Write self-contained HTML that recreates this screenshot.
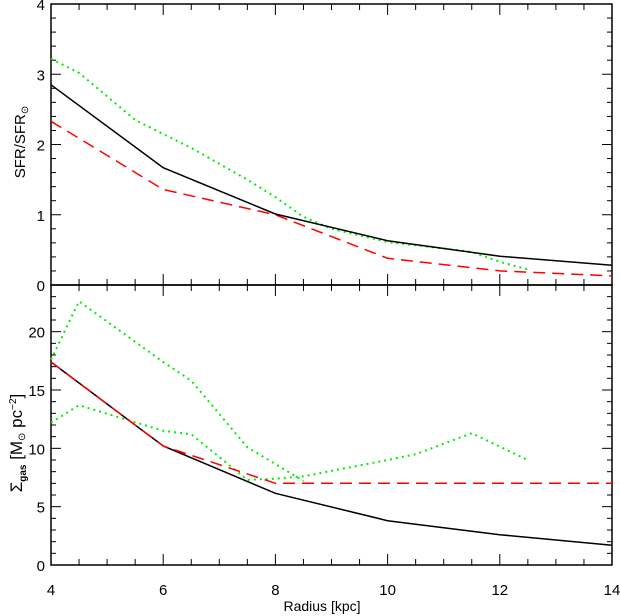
<!DOCTYPE html>
<html><head><meta charset="utf-8"><style>
html,body{margin:0;padding:0;background:#fff;}
svg{display:block;font-family:"Liberation Sans",sans-serif;}
</style></head><body>
<svg id="chart" width="620" height="616" viewBox="0 0 620 616" xmlns="http://www.w3.org/2000/svg"></svg>
<script>
const radiusTicks = [4, 6, 8, 10, 12, 14];
const sfrTicks = [0, 1, 2, 3, 4];
const gasTicks = [0, 5, 10, 15, 20];
const sfrBlackR = [4, 6, 8, 10, 12, 14];
const sfrBlackV = [2.85, 1.67, 1.01, 0.63, 0.41, 0.28];
const sfrRedR = [4, 6, 8, 10, 12, 14];
const sfrRedV = [2.33, 1.36, 1.0, 0.38, 0.2, 0.13];
const sfrGreenR = [4, 4.5, 5.5, 6, 6.5, 7.5, 8, 8.5, 9, 10, 11, 11.5, 12, 12.5];
const sfrGreenV = [3.22, 3.02, 2.35, 2.15, 1.95, 1.5, 1.25, 0.97, 0.8, 0.61, 0.52, 0.47, 0.33, 0.22];
const gasBlackR = [4, 6, 8, 10, 12, 14];
const gasBlackV = [17.4, 10.2, 6.15, 3.8, 2.6, 1.7];
const gasRedR = [4, 6, 8, 10, 12, 14];
const gasRedV = [17.4, 10.2, 7.0, 7.0, 7.0, 7.0];
const gasGreenUpR = [4, 4.5, 6, 6.5, 7.5, 8.5];
const gasGreenUpV = [17.6, 22.6, 17.4, 15.8, 10.1, 7.2];
const gasGreenLoR = [4, 4.5, 6, 6.5, 7.5, 8, 8.5, 10, 10.5, 11.5, 12.5];
const gasGreenLoV = [12.2, 13.7, 11.5, 11.2, 7.3, 7.4, 7.6, 9.0, 9.5, 11.3, 9.0];

const svg = document.getElementById('chart');
const NS = 'http://www.w3.org/2000/svg';
const X0 = 51, X1 = 612;
const xs = r => X0 + (r - 4) / 10 * (X1 - X0);
const yTop = v => 285 - v / 4 * 281;
const yBot = v => 565 - v / 24 * 280;
function el(tag, attrs, parent) {
  const e = document.createElementNS(NS, tag);
  for (const k in attrs) e.setAttribute(k, attrs[k]);
  (parent || svg).appendChild(e);
  return e;
}
function panel(name, top, bottom, ymax, minorStep, majorStep, ys) {
  const g = el('g', {});
  
  
  el('rect', {x: X0, y: top, width: X1 - X0, height: bottom - top, fill: 'none', stroke: '#000', 'stroke-width': 1.5}, g);
  for (let r = 4; r <= 14.001; r += 0.5) {
    const major = Math.abs(r % 2) < 0.01;
    const L = major ? 11 : 6;
    el('line', {x1: xs(r), x2: xs(r), y1: bottom, y2: bottom - L, stroke: '#000'}, g);
    el('line', {x1: xs(r), x2: xs(r), y1: top, y2: top + L, stroke: '#000'}, g);
  }
  for (let v = 0; v <= ymax + 1e-6; v += minorStep) {
    const major = Math.abs(v / majorStep - Math.round(v / majorStep)) < 1e-6;
    const L = major ? 10 : 5;
    el('line', {x1: X0, x2: X0 + L, y1: ys(v), y2: ys(v), stroke: '#000'}, g);
    el('line', {x1: X1, x2: X1 - L, y1: ys(v), y2: ys(v), stroke: '#000'}, g);
  }
  return g;
}
function series(name, R, V, ys, color, dash, w) {
  const p = R.map((r, i) => xs(r).toFixed(1) + ',' + ys(V[i]).toFixed(1)).join(' ');
  const e = el('polyline', {points: p, fill: 'none', stroke: color, 'stroke-width': w || 1.5});
  if (dash) e.setAttribute('stroke-dasharray', dash);
  
  
}
panel('sfr-panel', 4, 285, 4, 0.2, 1, yTop);
panel('gas-panel', 285, 565, 24, 1, 5, yBot);

series('sfr-green-line', sfrGreenR, sfrGreenV, yTop, '#00ee00', '2,4', 2);
series('sfr-red-line', sfrRedR, sfrRedV, yTop, '#ff0000', '12,7');
series('sfr-black-line', sfrBlackR, sfrBlackV, yTop, '#000');
series('gas-green-upper-line', gasGreenUpR, gasGreenUpV, yBot, '#00ee00', '2,4', 2);
series('gas-green-lower-line', gasGreenLoR, gasGreenLoV, yBot, '#00ee00', '2,4', 2);
series('gas-black-line', gasBlackR, gasBlackV, yBot, '#000');
series('gas-red-line', gasRedR, gasRedV, yBot, '#ff0000', '12,7');

function text(name, x, y, s, anchor, size) {
  const t = el('text', {x: x, y: y, 'text-anchor': anchor || 'middle', 'font-size': size || 15});
  t.textContent = s;
  
  
  return t;
}
sfrTicks.forEach(v => text('sfr-tick-label', 45, yTop(v) + 6, String(v), 'end'));
gasTicks.forEach(v => text('gas-tick-label', 45, yBot(v) + 6, String(v), 'end'));
radiusTicks.forEach(v => text('x-tick-label', xs(v), 595, String(v)));
text('x-axis-title', 322, 611, 'Radius [kpc]', 'middle', 14);

const t1 = el('text', {transform: 'translate(25,142) rotate(-90)', 'text-anchor': 'middle', 'font-size': 15});


t1.innerHTML = 'SFR/SFR<tspan font-size="10" dy="3">⊙</tspan>';
const t2 = el('text', {transform: 'translate(22,443) rotate(-90)', 'text-anchor': 'middle', 'font-size': 17});


t2.innerHTML = 'Σ<tspan font-size="10" dy="4" font-weight="bold">gas</tspan><tspan dy="-4"> [M</tspan><tspan font-size="10" dy="3">⊙</tspan><tspan dy="-3"> pc</tspan><tspan font-size="10" dy="-6">−2</tspan><tspan dy="6">]</tspan>';
</script>
</body></html>
